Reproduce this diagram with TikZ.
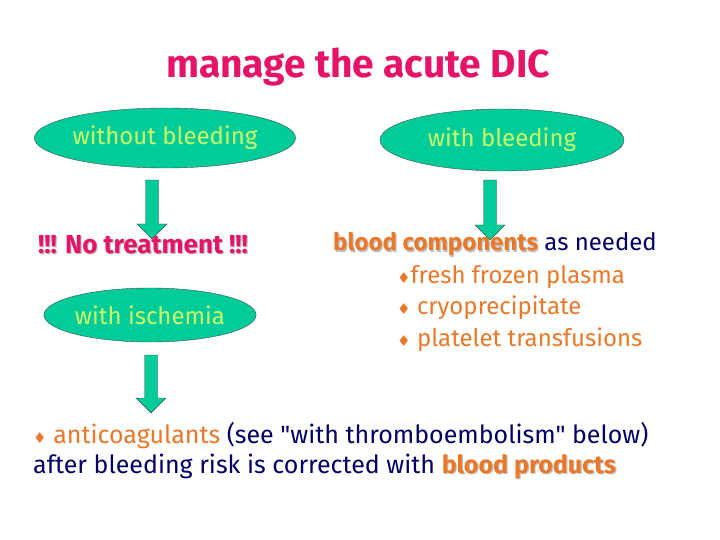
\documentclass[tikz,border=0pt]{standalone}
\usepackage{fontspec}
\setmainfont{Fira Sans}[Ligatures=TeXOff]
\newfontfamily\symfont{DejaVu Sans}
\usepackage{xcolor}
\usetikzlibrary{positioning, shapes.geometric}
\definecolor{dicteal}{RGB}{0,204,153}
\definecolor{dicgreen}{RGB}{204,255,102}
\definecolor{dicpink}{RGB}{230,20,105}
\definecolor{dicorange}{RGB}{235,120,40}
\definecolor{dicnavy}{RGB}{0,0,102}
% bold text with a grey drop shadow
\newcommand{\shadowed}[2]{\makebox[0pt][l]{\kern1.2pt\raisebox{-1.2pt}{\color{black!25}#2}}{\color{#1}#2}}
\newcommand{\dia}{{\symfont\fontsize{15}{15}\selectfont\textcolor{dicorange}{♦}}}
% block arrow pointing down: x, top y, tip y
\newcommand{\blockarrow}[3]{%
  \draw[blockarr] ({#1-6.5},#2) -- ({#1+6.5},#2) -- ({#1+6.5},{#3-15}) -- ({#1+15},{#3-15})
    -- (#1,#3) -- ({#1-15},{#3-15}) -- ({#1-6.5},{#3-15}) -- cycle;}

\begin{document}
\begin{tikzpicture}[
    x=1pt, y=-1pt,
    oval/.style={ellipse, draw=black!70, fill=dicteal, text=dicgreen, font=\fontsize{24}{28}\selectfont, inner sep=0pt},
    blockarr/.style={draw=black!70, fill=dicteal, line join=miter},
    line/.style={anchor=west, inner sep=0pt, font=\fontsize{24}{28}\selectfont, text=dicnavy}
]
    \useasboundingbox (0,0) rectangle (720,540);

    % titel
    \node[font=\fontsize{39}{44}\selectfont\bfseries, text=dicpink] (title) at (358,67) {manage the acute DIC};

    % ovale
    \node[oval, minimum width=254pt, minimum height=60pt] (nobleed) at (165,138) {without bleeding};
    \node[oval, minimum width=244pt, minimum height=62pt] (bleed) at (502,140) {with bleeding};
    \node[oval, minimum width=204pt, minimum height=54pt] (isch) at (150,315) {with ischemia};

    % pfeile
    \blockarrow{152}{180}{239}
    \blockarrow{490}{180}{240}
    \blockarrow{151}{355}{413}

    % linke seite
    \node[font=\fontsize{26}{30}\selectfont\bfseries, inner sep=0pt] (notreat) at (143,245) {\shadowed{dicpink}{!!! No treatment !!!}};

    % rechte seite
    \node[line] (comp) at (333,245) {\shadowed{dicorange}{\bfseries blood components} as needed};
    \node[line, text=dicorange] (ffp) at (397,277) {\dia fresh frozen plasma};
    \node[line, text=dicorange] (cryo) at (397,308) {\dia\ cryoprecipitate};
    \node[line, text=dicorange] (plt) at (397,340) {\dia\ platelet transfusions};

    % unten
    \node[line, font=\fontsize{25}{29}\selectfont] (anti) at (33,436) {\dia\ \textcolor{dicorange}{anticoagulants} (see "with thromboembolism" below)};
    \node[line, font=\fontsize{25}{29}\selectfont] (after) at (33,467) {after bleeding risk is corrected with \shadowed{dicorange}{\bfseries blood products}};
\end{tikzpicture}
\end{document}
